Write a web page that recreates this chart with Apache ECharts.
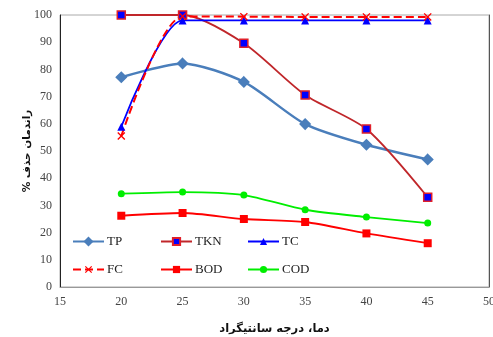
<!DOCTYPE html>
<html><head><meta charset="utf-8">
<script src="https://cdn.jsdelivr.net/npm/echarts@6/dist/echarts.min.js"></script>
<style>html,body{margin:0;padding:0;background:#fff}#c{width:493px;height:337px}</style>
</head><body><div id="c"></div>
<script>
const temps = [20, 25, 30, 35, 40, 45];
const TP  = [77.1, 82.2, 75.4, 59.9, 52.3, 46.9];
const TKN = [100, 100, 89.6, 70.6, 58.1, 33.0];
const TC  = [58.9, 98.0, 98.0, 98.0, 98.0, 98.0];
const FC  = [55.5, 99.5, 99.4, 99.3, 99.3, 99.3];
const BOD = [26.2, 27.2, 25.0, 23.9, 19.7, 16.1];
const COD = [34.3, 34.9, 33.8, 28.4, 25.7, 23.5];
const xTitle = 'دما، درجه سانتیگراد';
const yTitle = 'راندمان حذف %\u200F';

const pair = arr => temps.map((t, i) => [t, arr[i]]);
const X = 'path://M0,1.2L1.2,0L5,3.8L8.8,0L10,1.2L6.2,5L10,8.8L8.8,10L5,6.2L1.2,10L0,8.8L3.8,5Z';
const font = 'Liberation Serif';
const series = [
  {name:'TP', data:pair(TP), color:'#4A7EBB', lw:2.5, sym:'diamond', sz:10, border:'#4A7EBB'},
  {name:'TKN', data:pair(TKN), color:'#C0262A', lw:1.8, sym:'rect', sz:8, fill:'#0000FF', border:'#E0202A'},
  {name:'TC', data:pair(TC), color:'#0000FF', lw:1.8, sym:'triangle', sz:8},
  {name:'FC', data:pair(FC), color:'#FF0000', lw:2, sym:X, sz:8, dash:'dashed'},
  {name:'BOD', data:pair(BOD), color:'#FF0000', lw:1.8, sym:'rect', sz:8},
  {name:'COD', data:pair(COD), color:'#00EE00', lw:1.8, sym:'circle', sz:7}
].map(s => ({
  name:s.name, type:'line', data:s.data, smooth:0.25, symbol:s.sym, symbolSize:s.sz,
  showAllSymbol:true,
  lineStyle:{color:s.color, width:s.lw, type:s.dash || 'solid'},
  itemStyle:{color:s.fill || s.color, borderColor:s.border || s.color, borderWidth:s.border ? 1.5 : 0},
  emphasis:{disabled:true}
}));
const legendPos = [
  ['TP', 72, 235], ['TKN', 160, 235], ['TC', 247, 235],
  ['FC', 72, 263], ['BOD', 160, 263], ['COD', 247, 263]
];
const legends = legendPos.map(([n, l, t]) => ({
  data:[n], left:l, top:t, itemWidth:31, itemHeight:9, itemGap:0, padding:0,
  selectedMode:false,
  textStyle:{fontFamily:font, fontSize:13, color:'#222', padding:[0,0,0,-2]}
}));
const chart = echarts.init(document.getElementById('c'));
chart.setOption({
  animation:false,
  backgroundColor:'#fff',
  grid:{left:60, right:4, top:15, bottom:50, show:true, borderColor:'#aaa', borderWidth:1,
        containLabel:false, outerBoundsMode:'none'},
  legend:legends,
  xAxis:{type:'value', min:15, max:50, interval:5,
    axisLine:{lineStyle:{color:'#999'}}, axisTick:{show:false}, splitLine:{show:false},
    axisLabel:{fontFamily:font, fontSize:12, color:'#444', margin:9},
    name:xTitle, nameLocation:'middle', nameGap:36,
    nameTextStyle:{fontFamily:'DejaVu Sans', fontWeight:'bold', fontSize:11.5, color:'#111'}},
  yAxis:[{type:'value', min:0, max:100, interval:10,
    axisLine:{show:true, lineStyle:{color:'#222'}}, axisTick:{show:false}, splitLine:{show:false},
    axisLabel:{fontFamily:font, fontSize:12, color:'#444', margin:8},
    name:yTitle, nameLocation:'middle', nameGap:27, nameRotate:90, nameMoveOverlap:false,
    nameTextStyle:{fontFamily:'DejaVu Sans', fontWeight:'bold', fontSize:10.5, color:'#111'}},
    {type:'value', min:0, max:100, interval:10, position:'right',
    axisLine:{show:true, lineStyle:{color:'#555'}}, axisTick:{show:false}, axisLabel:{show:false}, splitLine:{show:false}}],
  series:series
});
</script></body></html>
